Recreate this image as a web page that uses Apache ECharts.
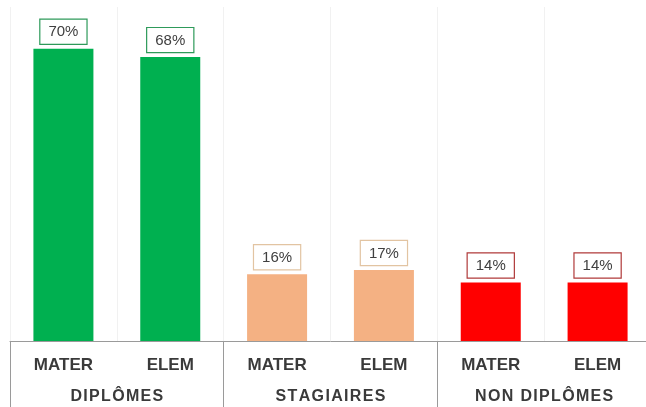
<!DOCTYPE html>
<html>
<head>
<meta charset="utf-8">
<script src="https://cdn.jsdelivr.net/npm/echarts@6/dist/echarts.min.js"></script>
<style>
  html, body { margin: 0; padding: 0; background: #ffffff; overflow: hidden; }
  /* the drawing is a little wider than the window, so its right edge is cut off */
  #chart { width: 652px; height: 407px; }
</style>
</head>
<body>
<div id="chart"></div>
<script>
// Levels shown under each bar, and the groups they belong to
const levels = ['MATER', 'ELEM', 'MATER', 'ELEM', 'MATER', 'ELEM'];
const groups = ['DIPLÔMES', 'STAGIAIRES', 'NON DIPLÔMES'];
// Share of staff (%) per bar
const values = [70, 68, 16, 17, 14, 14];
// Fill and label-border colour per group
const groupFill = ['#00b050', '#f4b183', '#ff0000'];
const groupBorder = ['#2e9a5a', '#e2c4a2', '#b03a3a'];

const font = '"Liberation Sans", Arial, sans-serif';

const barData = values.map((v, i) => {
  const g = Math.floor(i / 2);
  return {
    value: v,
    itemStyle: { color: groupFill[g] },
    label: { borderColor: groupBorder[g] }
  };
});

const chart = echarts.init(document.getElementById('chart'), null, { renderer: 'canvas' });
chart.setOption({
  animation: false,
  grid: { left: 10, right: 1, top: 7, bottom: 66 },
  xAxis: [
    {
      type: 'category',
      data: levels,
      position: 'bottom',
      axisLine: { lineStyle: { color: '#9a9a9a', width: 1 } },
      axisTick: { show: false },
      splitLine: { show: true, lineStyle: { color: '#f1f1f1', width: 1 } },
      axisLabel: {
        margin: 16,
        fontFamily: font,
        fontSize: 17,
        fontWeight: 'bold',
        color: '#3a3a3a'
      }
    },
    {
      type: 'category',
      data: groups,
      position: 'bottom',
      axisLine: { show: false },
      axisTick: { show: true, length: 67, lineStyle: { color: '#9a9a9a', width: 1 } },
      axisLabel: {
        margin: 48,
        fontFamily: font,
        fontSize: 16,
        fontWeight: 'bold',
        color: '#3a3a3a',
        formatter: s => s.split('').join('\u200a')
      }
    }
  ],
  yAxis: {
    type: 'value',
    min: 0,
    max: 80,
    show: false,
    splitLine: { show: false }
  },
  series: [
    {
      type: 'bar',
      xAxisIndex: 0,
      barWidth: 60,
      data: barData,
      label: {
        show: true,
        position: 'top',
        distance: 5,
        formatter: '{c}%',
        fontFamily: font,
        fontSize: 15,
        color: '#404040',
        backgroundColor: '#ffffff',
        borderWidth: 1.2,
        padding: [5, 8, 4, 8]
      }
    }
  ]
});
</script>
</body>
</html>
